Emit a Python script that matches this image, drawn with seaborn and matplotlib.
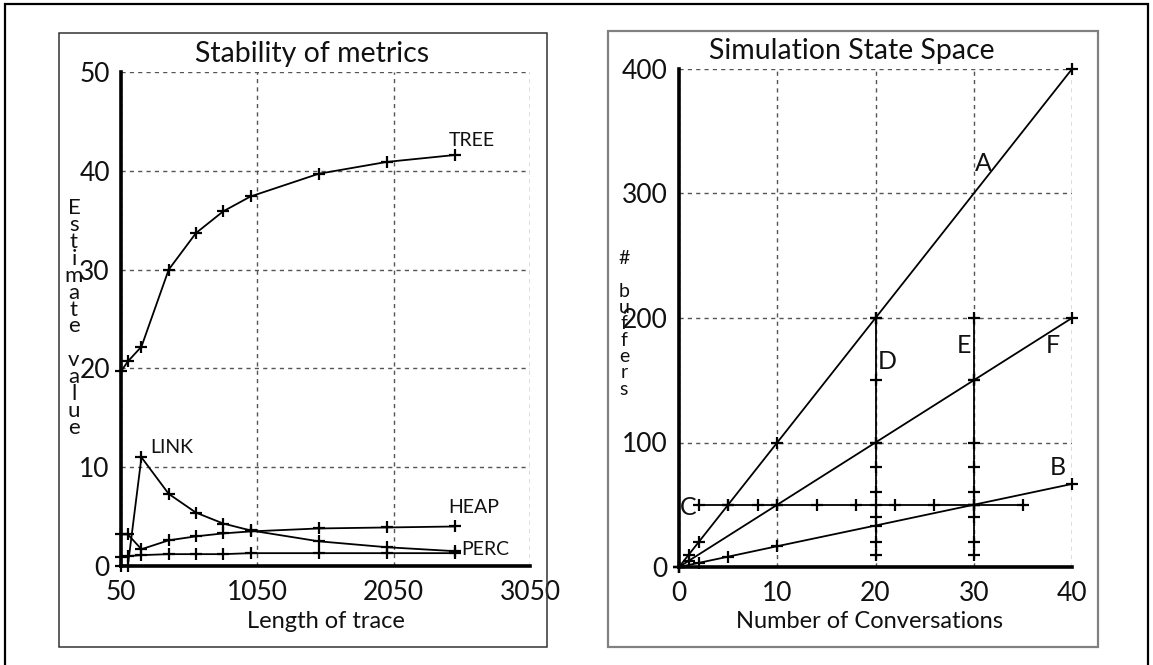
import matplotlib
matplotlib.use("Agg")
import matplotlib.pyplot as plt
from matplotlib.patches import Rectangle
import seaborn as sns
import pandas as pd

# ---------------- data ----------------
trace_len = [50, 100, 200, 400, 600, 800, 1000, 1500, 2000, 2500]
tree = [19.7, 20.7, 22.2, 30.0, 33.7, 35.9, 37.4, 39.7, 40.9, 41.6]
link = [0.0, 0.0, 11.0, 7.3, 5.4, 4.3, 3.6, 2.5, 1.9, 1.5]
heap = [3.2, 3.2, 1.7, 2.6, 3.0, 3.3, 3.5, 3.8, 3.9, 4.0]
perc = [0.9, 1.0, 1.1, 1.2, 1.2, 1.2, 1.3, 1.3, 1.3, 1.3]
metric_names = ["TREE", "LINK", "HEAP", "PERC"]
left_xticks = [50, 1050, 2050, 3050]
left_yticks = [0, 10, 20, 30, 40, 50]

a_x = [0, 1, 2, 5, 10, 20, 40]
a_y = [0, 10, 20, 50, 100, 200, 400]
f_x = [0, 1, 10, 20, 30, 40]
f_y = [0, 5, 50, 100, 150, 200]
b_x = [0, 2, 5, 10, 20, 30, 40]
b_y = [0, 3.3, 8.3, 16.7, 33.3, 50, 66.7]
c_x = [2, 5, 8, 10, 14, 18, 22, 26, 30, 35]
c_y = [50, 50, 50, 50, 50, 50, 50, 50, 50, 50]
d_x = [20, 20, 20, 20, 20, 20, 20, 20, 20]
d_y = [10, 20, 40, 50, 60, 80, 100, 150, 200]
e_x = [30, 30, 30, 30, 30, 30, 30, 30, 30]
e_y = [10, 20, 40, 50, 60, 80, 100, 150, 200]
right_xticks = [0, 10, 20, 30, 40]
right_yticks = [0, 100, 200, 300, 400]

# ---------------- style ----------------
sns.set_style("white")
plt.rcParams["font.family"] = ["Lato", "DejaVu Sans"]
plt.rcParams["text.color"] = "#111111"

W, H = 1153, 665
fig = plt.figure(figsize=(W / 100, H / 100), dpi=100)


def fx(px):
    return px / W


def fy(py):
    return 1 - py / H


# outer border and panel boxes
fig.patches.append(Rectangle((fx(5), fy(670)), fx(1148 - 5), (670 - 4) / H,
                             transform=fig.transFigure, fill=False, ec="black", lw=1.6))
fig.patches.append(Rectangle((fx(59), fy(647)), fx(547 - 59), (647 - 33) / H,
                             transform=fig.transFigure, fill=False, ec="#333333", lw=1.1))
fig.patches.append(Rectangle((fx(608), fy(647)), fx(1098 - 608), (647 - 31) / H,
                             transform=fig.transFigure, fill=False, ec="#808080", lw=1.6))

ax1 = fig.add_axes([fx(121), fy(566), fx(530 - 121), (566 - 72) / H])
ax2 = fig.add_axes([fx(679), fy(567), fx(1072 - 679), (567 - 69) / H])

line_kw = dict(color="black", linewidth=1.3, marker="+", markersize=9,
               markeredgewidth=1.6, markeredgecolor="black",
               sort=False, estimator=None, clip_on=False)

for vals in (tree, link, heap, perc):
    df = pd.DataFrame({"x": trace_len, "y": vals})
    sns.lineplot(data=df, x="x", y="y", ax=ax1, **line_kw)

for xs, ys in ((a_x, a_y), (f_x, f_y), (b_x, b_y), (c_x, c_y), (d_x, d_y), (e_x, e_y)):
    df = pd.DataFrame({"x": xs, "y": ys})
    sns.lineplot(data=df, x="x", y="y", ax=ax2, **line_kw)


def style_axis(ax, xt, yt):
    ax.set_facecolor("none")
    ax.set_xlim(xt[0], xt[-1])
    ax.set_ylim(yt[0], yt[-1])
    ax.set_xticks(xt)
    ax.set_yticks(yt)
    ax.set_xlabel("")
    ax.set_ylabel("")
    ax.grid(True, linestyle=(0, (3, 3)), color="#555555", linewidth=1.0)
    for s in ("top", "right"):
        ax.spines[s].set_visible(False)
    for s in ("left", "bottom"):
        ax.spines[s].set_linewidth(2.6)
        ax.spines[s].set_color("black")
        ax.spines[s].set_zorder(5)
    ax.tick_params(axis="both", which="major", direction="out", length=5, width=2.2,
                   color="black", labelsize=19, labelcolor="#111111")
    ax.tick_params(axis="x", pad=5)
    ax.tick_params(axis="y", pad=3)


style_axis(ax1, left_xticks, left_yticks)
style_axis(ax2, right_xticks, right_yticks)

# series labels, left panel
lab_kw = dict(fontsize=14, ha="left", va="center", color="#111111")
ax1.text(2454, 43.1, metric_names[0], **lab_kw)
ax1.text(263, 12.0, metric_names[1], **lab_kw)
ax1.text(2454, 5.9, metric_names[2], **lab_kw)
ax1.text(2543, 1.7, metric_names[3], **lab_kw)

# series labels, right panel
big_kw = dict(fontsize=18, ha="center", va="center", color="#111111")
ax2.text(31.0, 324, "A", **big_kw)
ax2.text(38.0, 178, "F", **big_kw)
ax2.text(21.2, 165, "D", **big_kw)
ax2.text(29.0, 178, "E", **big_kw)
ax2.text(38.6, 80, "B", **big_kw)
ax2.text(0.9, 47.5, "C", **big_kw)

# titles
fig.text(fx(312), fy(54), "Stability of metrics", fontsize=20.5, ha="center", va="center")
fig.text(fx(852), fy(51), "Simulation State Space", fontsize=20.5, ha="center", va="center")

# x labels
fig.text(fx(326), fy(622), "Length of trace", fontsize=17, ha="center", va="center")
fig.text(fx(870), fy(622), "Number of Conversations", fontsize=17, ha="center", va="center")

# stacked y labels
fig.text(fx(74), fy(318), "\n".join(list("Estimate value")), fontsize=16,
         ha="center", va="center", linespacing=0.81, multialignment="center")
fig.text(fx(624), fy(324), "\n".join(list("# buffers")), fontsize=14,
         ha="center", va="center", linespacing=0.95, multialignment="center")

fig.savefig("out.png", dpi=100)
